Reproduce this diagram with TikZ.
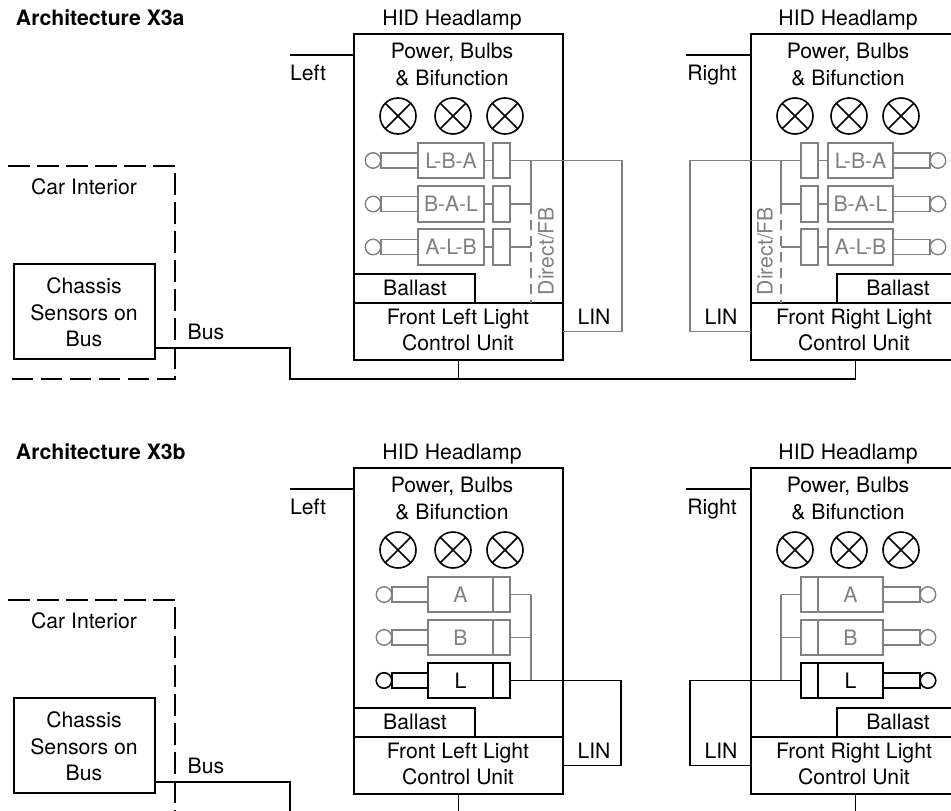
\documentclass[tikz,border=0pt]{standalone}
\usepackage{fontspec}
\setmainfont{TeX Gyre Heros}
\definecolor{gl}{HTML}{808080}
\tikzset{
  box/.style={draw,rectangle,inner sep=0pt,outer sep=0pt,line width=1.6pt},
  greyed/.style={draw=gl,text=gl,line width=1.4pt},
  blacked/.style={draw=black,text=black,line width=1.6pt},
  wire/.style={line width=1.6pt,black},
  gwire/.style={line width=1.4pt,gl},
  txt/.style={inner sep=0pt,outer sep=0pt,align=center,font=\fontsize{21.2}{26.6}\selectfont,text height=15pt,text depth=0pt},
  mtxt/.style={inner sep=0pt,outer sep=0pt,align=center,font=\fontsize{21.2}{26.6}\selectfont},
  lamp/.style={circle,draw,line width=1.6pt,minimum size=36pt,inner sep=0pt,outer sep=0pt,
    path picture={\draw[line width=1.6pt] (path picture bounding box.north west)--(path picture bounding box.south east)
      (path picture bounding box.north east)--(path picture bounding box.south west);}},
  jackc/.style={circle,draw,inner sep=0pt,outer sep=0pt,minimum size=15.5pt},
}
\newcommand\bx[7]{%
  \pgfmathsetmacro\bxW{#5-(#3)}\pgfmathsetmacro\bxH{#6-(#4)}%
  \node[box,#1,minimum width=\bxW pt,minimum height=\bxH pt,font=\fontsize{21.2}{26.6}\selectfont] (#2) at ({(#3+#5)/2},{(#4+#6)/2}) {#7};}
% style, id, text, ytop, ybot, jack left x, main x1, main x2
\newcommand\rowL[8]{%
  \bx{#1}{m#2}{#7}{#4}{#8}{#5}{#3}%
  \bx{#1}{s#2}{493}{#4}{510}{#5}{}%
  \bx{#1}{r#2}{#6}{(#4+#5)/2-7.5}{#7}{(#4+#5)/2+7.5}{}%
  \node[jackc,#1] (c#2) at (#6-8,{(#4+#5)/2}) {};}
% style, id, text, ytop, ybot, main x1, main x2, jack right x
\newcommand\rowR[8]{%
  \bx{#1}{m#2}{#6}{#4}{#7}{#5}{#3}%
  \bx{#1}{s#2}{801}{#4}{818}{#5}{}%
  \bx{#1}{r#2}{#7}{(#4+#5)/2-7.5}{#8}{(#4+#5)/2+7.5}{}%
  \node[jackc,#1] (c#2) at (#8+8,{(#4+#5)/2}) {};}
\newcommand\frameL{%
  \node[txt] (hid) at (452,17.5) {HID Headlamp};
  \bx{}{main}{354}{34}{563}{303}{}
  \bx{}{unit}{354}{303}{563}{360}{}
  \bx{}{ball}{354}{274}{475}{303}{}
  \node[txt] (ballt) at (415,288) {Ballast};
  \node[mtxt] (pow) at (452,64.5) {Power, Bulbs\\\& Bifunction};
  \node[mtxt] (fl) at (458,330) {Front Left Light\\Control Unit};
  \node[lamp] (l1) at (398,116) {};
  \node[lamp] (l2) at (453,116) {};
  \node[lamp] (l3) at (505,116) {};
  \coordinate (feed) at (290,55);
  \draw[wire] (feed) -- (feed -| main.west);
  \node[txt] (side) at (308,73) {Left};}
\newcommand\frameR{%
  \node[txt] (hid) at (848,17.5) {HID Headlamp};
  \bx{}{main}{751}{34}{960}{303}{}
  \bx{}{unit}{751}{303}{960}{360}{}
  \bx{}{ball}{837}{274}{960}{303}{}
  \node[txt] (ballt) at (898,288) {Ballast};
  \node[mtxt] (pow) at (848,64.5) {Power, Bulbs\\\& Bifunction};
  \node[mtxt] (fl) at (854,330) {Front Right Light\\Control Unit};
  \node[lamp] (l1) at (795,116) {};
  \node[lamp] (l2) at (849,116) {};
  \node[lamp] (l3) at (901,116) {};
  \coordinate (feed) at (686,55);
  \draw[wire] (feed) -- (feed -| main.west);
  \node[txt] (side) at (712,73) {Right};}
\newcommand\interior{%
  \draw[wire,dash pattern=on 21.5pt off 7.5pt] (8,166) -- (175,166) -- (175,379) -- (8,379);
  \node[txt] (ci) at (84,187) {Car Interior};
  \bx{}{chas}{14}{264}{155}{359}{}
  \node[mtxt] (chast) at (84,312.5) {Chassis\\Sensors on\\Bus};
  \node[txt] (bust) at (206,332) {Bus};}
\begin{document}
\begin{tikzpicture}[x=1pt,y=-1pt]
\path[use as bounding box,clip] (0,0) rectangle (951,811);
% ---------- X3a ----------
\node[txt,anchor=west,font=\fontsize{21.2}{26}\selectfont\bfseries] (tta) at (16,17.5) {Architecture X3a};
\begin{scope}[name prefix=a-]
  \interior
\end{scope}
\begin{scope}[name prefix=al-]
  \rowL{greyed}{1}{L-B-A}{143}{178}{381}{418}{484}
  \rowL{greyed}{2}{B-A-L}{186}{222}{381}{418}{484}
  \rowL{greyed}{3}{A-L-B}{229}{265}{381}{418}{484}
  \draw[gwire] (m1.east)--(s1.west) (m2.east)--(s2.west) (m3.east)--(s3.west);
  \coordinate (vx) at (531,0);
  \coordinate (linx) at (622,0);
  \frameL
  \draw[gwire] (s1.east) -| (linx |- unit.east) -- (unit.east);
  \draw[gwire] (s1.east -| vx) -- (s2.east -| vx);
  \draw[gwire] (s2.east) -- (s2.east -| vx);
  \draw[gwire] (s3.east) -- (s3.east -| vx);
  \draw[gwire,dash pattern=on 10pt off 6pt] (s2.east -| vx) -- (vx |- main.south);
  \node[txt,text=gl,rotate=90] (dfb) at (546,251) {Direct/FB};
  \node[txt] (lin) at (594,317) {LIN};
\end{scope}
\begin{scope}[name prefix=ar-]
  \rowR{greyed}{1}{L-B-A}{143}{178}{828}{893}{930}
  \rowR{greyed}{2}{B-A-L}{186}{222}{828}{893}{930}
  \rowR{greyed}{3}{A-L-B}{229}{265}{828}{893}{930}
  \draw[gwire] (m1.west)--(s1.east) (m2.west)--(s2.east) (m3.west)--(s3.east);
  \coordinate (vx) at (781,0);
  \coordinate (linx) at (690,0);
  \frameR
  \draw[gwire] (s1.west) -| (linx |- unit.west) -- (unit.west);
  \draw[gwire] (s1.west -| vx) -- (s2.west -| vx);
  \draw[gwire] (s2.west) -- (s2.west -| vx);
  \draw[gwire] (s3.west) -- (s3.west -| vx);
  \draw[gwire,dash pattern=on 10pt off 6pt] (s2.west -| vx) -- (vx |- main.south);
  \node[txt,text=gl,rotate=90] (dfb) at (765,251) {Direct/FB};
  \node[txt] (lin) at (721,317) {LIN};
\end{scope}
\coordinate (a-busy) at (290,379);
\draw[wire] (a-chas.east |- 0,348) -- (a-busy |- 0,348) -- (a-busy) -- (a-busy -| ar-unit.south) -- (ar-unit.south);
\draw[wire] (al-unit.south) -- (al-unit.south |- a-busy);
% ---------- X3b ----------
\node[txt,anchor=west,font=\fontsize{21.2}{26}\selectfont\bfseries] (ttb) at (16,452) {Architecture X3b};
\begin{scope}[yshift=-434pt,name prefix=b-]
  \interior
\end{scope}
\begin{scope}[yshift=-434pt,name prefix=bl-]
  \rowL{greyed}{1}{A}{143}{178}{392}{428}{493}
  \rowL{greyed}{2}{B}{186}{221}{392}{428}{493}
  \coordinate (vx) at (531,0);
  \coordinate (linx) at (621,0);
  \frameL
  \draw[gwire] (s1.east) -- (s1.east -| vx);
  \draw[gwire] (s2.east) -- (s2.east -| vx);
  \rowL{blacked}{3}{L}{229}{264}{392}{428}{493}
  \draw[gwire] (s1.east -| vx) -- (s3.east -| vx);
  \draw[wire] (s3.east) -| (linx |- unit.east) -- (unit.east);
  \node[txt] (lin) at (594,317) {LIN};
\end{scope}
\begin{scope}[yshift=-434pt,name prefix=br-]
  \rowR{greyed}{1}{A}{143}{178}{818}{883}{920}
  \rowR{greyed}{2}{B}{186}{221}{818}{883}{920}
  \coordinate (vx) at (781,0);
  \coordinate (linx) at (690,0);
  \frameR
  \draw[gwire] (s1.west) -- (s1.west -| vx);
  \draw[gwire] (s2.west) -- (s2.west -| vx);
  \rowR{blacked}{3}{L}{229}{264}{818}{883}{920}
  \draw[gwire] (s1.west -| vx) -- (s3.west -| vx);
  \draw[wire] (s3.west) -| (linx |- unit.west) -- (unit.west);
  \node[txt] (lin) at (721,317) {LIN};
\end{scope}
\coordinate (b-busy) at (290,811);
\draw[wire] (b-chas.east |- 0,782) -- (b-busy |- 0,782) -- (b-busy);
\draw[wire] (bl-unit.south) -- (bl-unit.south |- b-busy);
\draw[wire] (br-unit.south) -- (br-unit.south |- b-busy);
\end{tikzpicture}
\end{document}
